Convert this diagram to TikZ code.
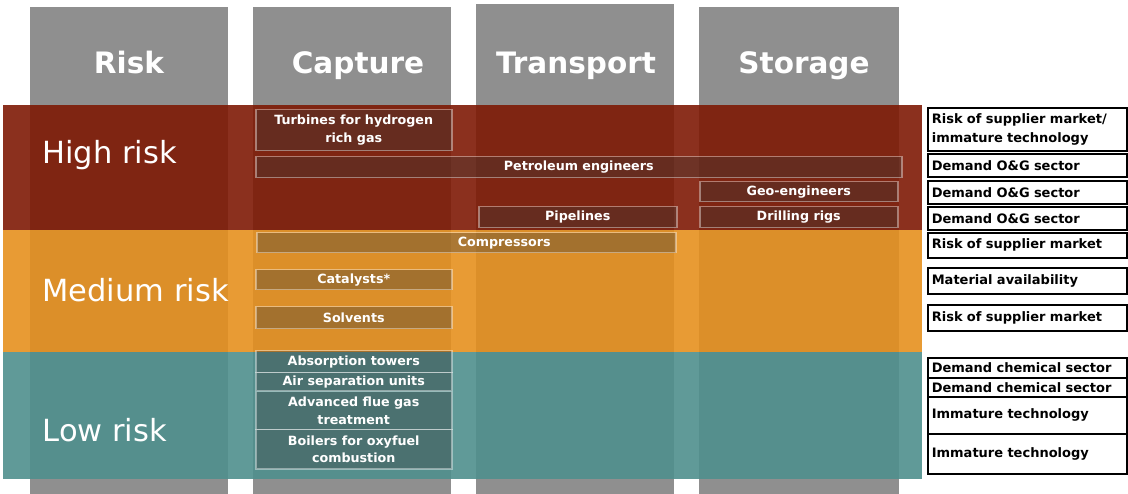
\documentclass[tikz,border=0pt]{standalone}
\usepackage{fontspec}
\setmainfont{DejaVu Sans}
\definecolor{colgrey}{HTML}{8F8F8F}
\definecolor{highred}{HTML}{7E1A05}
\definecolor{medorange}{HTML}{E5901E}
\definecolor{lowteal}{HTML}{4F8F8D}
\definecolor{itemfill}{HTML}{3A3A3A}
\tikzset{
    every node/.style={font=\small},
    column/.style={fill=colgrey},
    header/.style={text=white, anchor=base, font=\fontsize{29.5}{32}\selectfont\bfseries},
    band/.style={fill opacity=0.9},
    bandlabel/.style={text=white, anchor=base west, font=\fontsize{30.5}{32}\selectfont},
    itemfont/.style={font=\fontsize{12.7}{17.5}\selectfont\bfseries},
    item/.style={itemfont, fill=itemfill, fill opacity=0.35, draw=white, draw opacity=0.4, line width=1.5pt, text=white, text opacity=1, align=center, anchor=north west, inner sep=0pt},
    riskbox/.style={draw=black, fill=white, line width=1.6pt, align=left, anchor=north west, text width=191pt, inner xsep=4pt, inner ysep=0pt, font=\fontsize{13}{18.5}\selectfont\bfseries},
}

\begin{document}
\begin{tikzpicture}[x=1pt, y=-1pt]
  \useasboundingbox (0,0) rectangle (1128,494);
  % columns
  \fill[column] (30,7) rectangle (228,494);
  \fill[column] (253,7) rectangle (451,494);
  \fill[column] (476,4) rectangle (674,494);
  \fill[column] (699,7) rectangle (899,494);
  \node[header] (risk) at (129,74) {Risk};
  \node[header] (capture) at (358,74) {Capture};
  \node[header] (transport) at (576,74) {Transport};
  \node[header] (storage) at (804,74) {Storage};
  % risk bands
  \fill[band, highred] (3,105) rectangle (922,230);
  \fill[band, medorange] (3,230) rectangle (922,352);
  \fill[band, lowteal] (3,352) rectangle (922,479);
  \node[bandlabel] (high) at (39,164) {High risk};
  \node[bandlabel] (medium) at (39,302) {Medium risk};
  \node[bandlabel] (low) at (39,442) {Low risk};
  % high risk items
  \node[item, minimum width=196pt, minimum height=41pt] (turbines) at (255,109) {Turbines for hydrogen\\rich gas};
  \node[item, minimum width=646pt, minimum height=21pt] (petroleum) at (255,156) {Petroleum engineers};
  \node[item, minimum width=198pt, minimum height=20pt] (geo) at (699,181) {Geo-engineers};
  \node[item, minimum width=198pt, minimum height=21pt] (pipelines) at (478,206) {Pipelines};
  \node[item, minimum width=198pt, minimum height=21pt] (drilling) at (699,206) {Drilling rigs};
  % medium risk items
  \node[item, minimum width=419pt, minimum height=20pt] (compressors) at (256,232) {};
  \node[itemfont, text=white] (comptext) at ([xshift=38pt]compressors.center) {Compressors};
  \node[item, minimum width=196pt, minimum height=20pt] (catalysts) at (255,269) {Catalysts*};
  \node[item, minimum width=196pt, minimum height=22pt] (solvents) at (255,306) {Solvents};
  % low risk items
  \node[item, minimum width=196pt, minimum height=22pt] (absorption) at (255,350) {Absorption towers};
  \node[item, minimum width=196pt, minimum height=18pt] (airsep) at (255,372) {Air separation units};
  \node[item, minimum width=196pt, minimum height=38pt] (fluegas) at (255,391) {Advanced flue gas\\treatment};
  \node[item, minimum width=196pt, minimum height=39pt] (boilers) at (255,429) {Boilers for oxyfuel\\combustion};
  % reasons
  \node[riskbox, minimum height=43pt] (reason1) at (927,107) {Risk of supplier market/\\immature technology};
  \node[riskbox, minimum height=23pt] (reason2) at (927,153) {Demand O\&G sector};
  \node[riskbox, minimum height=23pt] (reason3) at (927,180) {Demand O\&G sector};
  \node[riskbox, minimum height=23pt] (reason4) at (927,206) {Demand O\&G sector};
  \node[riskbox, minimum height=25pt] (reason5) at (927,232) {Risk of supplier market};
  \node[riskbox, minimum height=26pt] (reason6) at (927,267) {Material availability};
  \node[riskbox, minimum height=26pt] (reason7) at (927,304) {Risk of supplier market};
  \node[riskbox, minimum height=20pt] (reason8) at (927,357) {Demand chemical sector};
  \node[riskbox, minimum height=19pt] (reason9) at (927,377) {Demand chemical sector};
  \node[riskbox, minimum height=37pt] (reason10) at (927,396) {Immature technology};
  \node[riskbox, minimum height=40pt] (reason11) at (927,433) {Immature technology};
\end{tikzpicture}
\end{document}
